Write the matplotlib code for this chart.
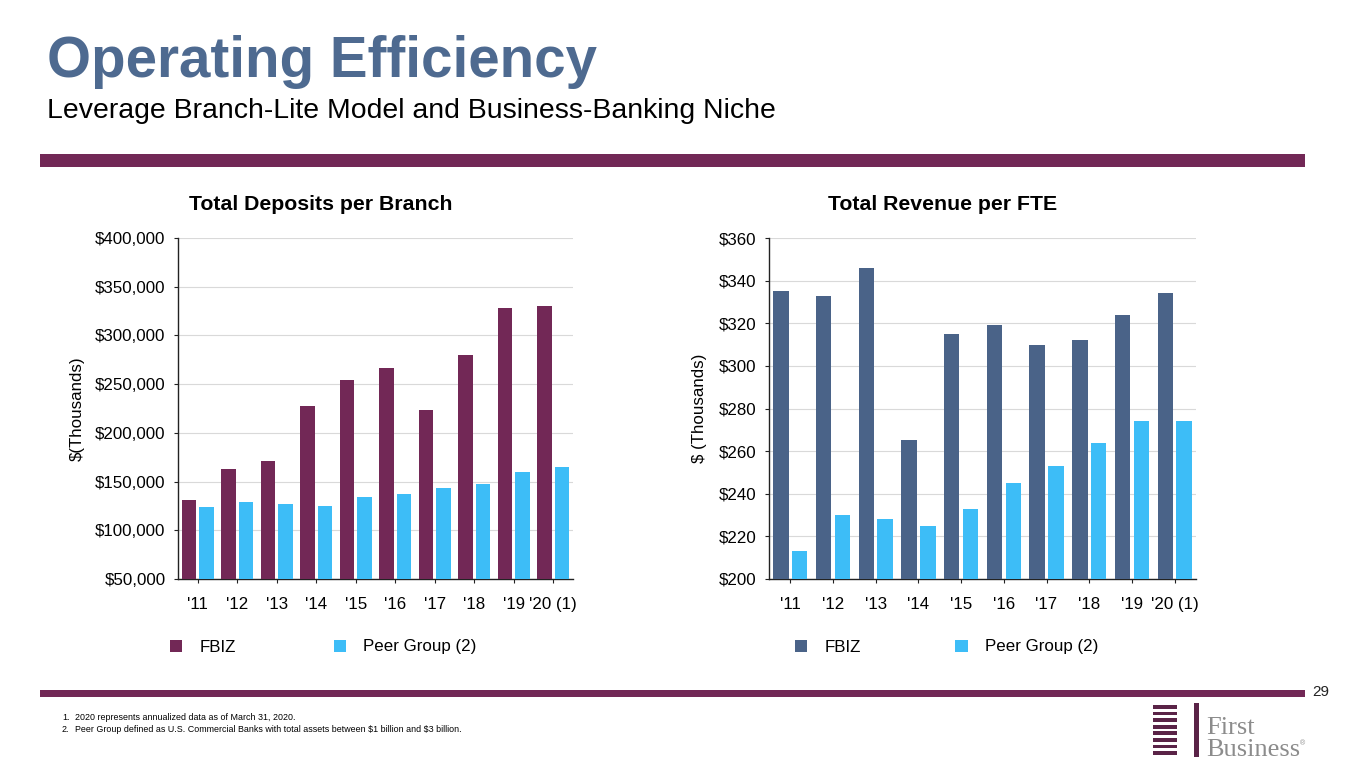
import numpy as np
import matplotlib.pyplot as plt
from matplotlib.patches import Rectangle
from matplotlib.ticker import FuncFormatter

plt.rcParams['font.family'] = ['Liberation Sans', 'DejaVu Sans']

# data
years = ["'11", "'12", "'13", "'14", "'15", "'16", "'17", "'18", "'19", "'20 (1)"]
dep_fbiz = [131000, 163000, 171000, 228000, 254000, 267000, 223000, 280000, 328000, 330000]
dep_peer = [124000, 129000, 127000, 125000, 134000, 137000, 143000, 147000, 160000, 165000]
rev_fbiz = [335, 333, 346, 265, 315, 319, 310, 312, 324, 334]
rev_peer = [213, 230, 228, 225, 233, 245, 253, 264, 274, 274]

PURPLE = '#722856'
LIGHTBLUE = '#3DBDF7'
SLATE = '#4A6388'
W, H = 1365, 768


def fx(px):
    return px / W


def fy(py):
    return 1 - py / H


fig = plt.figure(figsize=(13.65, 7.68), dpi=100)

# header
fig.text(fx(47), fy(77), 'Operating Efficiency', fontsize=40.7, fontweight='bold',
         color='#4E6A90', va='baseline')
fig.text(fx(47), fy(118), 'Leverage Branch-Lite Model and Business-Banking Niche',
         fontsize=20.4, color='black', va='baseline')
fig.patches.append(Rectangle((fx(40), fy(167)), fx(1305) - fx(40), fy(154) - fy(167),
                             transform=fig.transFigure, color=PURPLE, lw=0))


def bar_chart(rect, fbiz, peer, col, ylim, step, ylab, labx, title, titlex, legx, legsp):
    ax = fig.add_axes(rect)
    x = np.arange(len(years))
    b1 = ax.bar(x - 0.22, fbiz, width=0.36, color=col, label='FBIZ', zorder=3)
    b2 = ax.bar(x + 0.22, peer, width=0.36, color=LIGHTBLUE, label='Peer Group (2)', zorder=3)
    ax.set_xlim(-0.5, len(years) - 0.5)
    ax.set_ylim(*ylim)
    ax.set_yticks(np.arange(ylim[0], ylim[1] + 1, step))
    ax.yaxis.set_major_formatter(FuncFormatter(lambda v, p: '${:,.0f}'.format(v)))
    ax.set_xticks(x)
    ax.set_xticklabels(years)
    ax.grid(axis='y', color='#D9D9D9', lw=0.8, zorder=0)
    for s in ['top', 'right']:
        ax.spines[s].set_visible(False)
    for s in ['left', 'bottom']:
        ax.spines[s].set_color('#222222')
        ax.spines[s].set_linewidth(1.0)
    ax.tick_params(axis='y', length=3, pad=6, labelsize=12.2, color='#222222')
    ax.tick_params(axis='x', length=3, pad=10, labelsize=12.2, color='#222222')
    ax.set_ylabel(ylab, fontsize=12.2)
    ax.yaxis.set_label_coords(labx, 0.5)
    fig.text(fx(titlex), fy(204), title, fontsize=15.3, fontweight='bold', ha='center', va='center')
    ax.legend(handles=[b1, b2], loc='center left', bbox_to_anchor=(fx(legx), fy(647)),
              bbox_transform=fig.transFigure, ncol=2, frameon=False, fontsize=12.2,
              handlelength=0.72, handleheight=0.72, handletextpad=1.0,
              columnspacing=legsp, borderpad=0, borderaxespad=0)
    return ax


bar_chart([fx(178), fy(579), fx(573) - fx(178), fy(238) - fy(579)],
          dep_fbiz, dep_peer, PURPLE, (50000, 400000), 50000,
          '$(Thousands)', -0.236, 'Total Deposits per Branch', 321, 170, 5.8)

bar_chart([fx(769), fy(579), fx(1196) - fx(769), fy(238) - fy(579)],
          rev_fbiz, rev_peer, SLATE, (200, 360), 20,
          '$ (Thousands)', -0.146, 'Total Revenue per FTE', 943, 795, 5.6)

# footer
fig.patches.append(Rectangle((fx(40), fy(697)), fx(1305) - fx(40), fy(690) - fy(697),
                             transform=fig.transFigure, color=PURPLE, lw=0))
fig.text(fx(1312), fy(692), '29', fontsize=11, color='#222222', va='center')
fig.text(fx(62), fy(718), '1.', fontsize=6.4, va='center')
fig.text(fx(75), fy(718), '2020 represents annualized data as of March 31, 2020.', fontsize=6.4, va='center')
fig.text(fx(62), fy(730), '2.', fontsize=6.4, va='center')
fig.text(fx(75), fy(730),
         r'Peer Group defined as U.S. Commercial Banks with total assets between \$1 billion and \$3 billion.',
         fontsize=6.4, va='center')

# logo
for i in range(8):
    top = 705 + i * 6.6
    fig.patches.append(Rectangle((fx(1153), fy(top + 3.8)), fx(24), fy(0) - fy(3.8),
                                 transform=fig.transFigure, color='#5A2347', lw=0))
fig.patches.append(Rectangle((fx(1194), fy(757)), fx(5), fy(0) - fy(54),
                             transform=fig.transFigure, color='#5A2347', lw=0))
fig.text(fx(1206), fy(734), 'First', fontsize=19, family='Liberation Serif',
         color='#8C8C8C', va='baseline')
fig.text(fx(1206), fy(756), 'Business', fontsize=19, family='Liberation Serif',
         color='#8C8C8C', va='baseline')
fig.text(fx(1300), fy(745), '®', fontsize=5, color='#8C8C8C', va='baseline')

fig.savefig('out.png', dpi=100)
